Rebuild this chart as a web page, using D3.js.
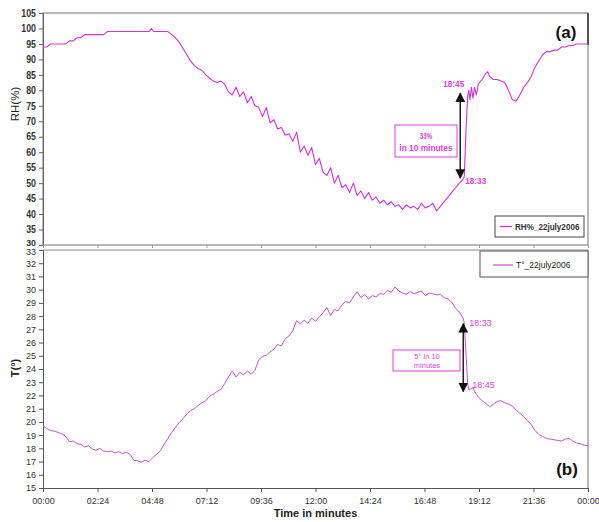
<!DOCTYPE html>
<html>
<head>
<meta charset="utf-8">
<script src="https://cdn.jsdelivr.net/npm/d3@7"></script>
<style>
  html, body { margin: 0; padding: 0; background: #fff; }
  svg { display: block; }
  .narrow { font-family: "Liberation Sans", Arial, sans-serif; font-weight: bold; }
  .sans { font-family: "Liberation Sans", Arial, sans-serif; }
</style>
</head>
<body>
<svg id="chart" width="599" height="522"></svg>
<script>
// Relative humidity, 22 July 2006: [minutes since midnight, RH %]
const rhSeries = [
  [0,94],[10,94],[20,95],[30,95],[40,95],[50,95],[60,95],[70,96],[80,96],[90,97],
  [100,97],[110,98],[120,98],[130,98],[140,98],[150,98],[160,98],[170,99],[180,99],[190,99],
  [200,99],[210,99],[220,99],[230,99],[240,99],[250,99],[260,99],[270,99],[280,99],[287,100],
  [292,99],[300,99],[310,99],[320,99],[330,99],[340,98],[350,97],[360,95.5],[370,93.5],[380,91.5],
  [390,89.5],[400,88],[410,87],[420,86.5],[430,85],[440,84],[450,83],[460,82.5],[470,83],[480,82],
  [490,79.5],[500,78.5],[510,81],[520,78],[530,79.5],[540,76],[550,78],[560,75],[570,74.5],[580,71.5],
  [590,74.5],[600,69.5],[610,70.5],[620,67.5],[630,68],[640,65.5],[650,66],[660,63.5],[670,66.5],[680,60],
  [690,62],[700,59],[710,61.5],[720,56],[730,58],[740,53.5],[750,52.5],[760,55],[770,50],[780,52.5],
  [790,48.5],[800,49.5],[810,47],[820,50],[830,46],[840,47.5],[850,45],[860,47],[870,44.5],[880,45.5],
  [890,43.5],[900,44.5],[910,43],[920,44],[930,42.5],[940,43],[950,41.5],[960,43],[970,42],[980,42.5],
  [990,41.5],[1000,43.5],[1010,42],[1020,42.5],[1030,43.5],[1040,41],[1050,42.5],[1060,44],[1070,45.5],[1080,47],
  [1090,48.5],[1100,50],[1108,51],[1113,52],[1118,68],[1122,78],[1125,80],[1128,77],[1132,81],[1136,77.5],
  [1140,81],[1145,78.5],[1150,82],[1160,83.5],[1170,85.5],[1175,86],[1180,84.5],[1190,83.5],[1200,83.5],[1210,83],
  [1220,82.5],[1230,80],[1240,77],[1250,76.5],[1260,78.5],[1270,81],[1280,82.5],[1290,84.5],[1300,87.5],[1310,89.5],
  [1320,91.5],[1330,92.5],[1340,92.5],[1350,93],[1360,93],[1370,94],[1380,94],[1390,94.5],[1400,94.5],[1410,95],
  [1420,95],[1430,95],[1440,95]
];

// Air temperature, 22 July 2006: [minutes since midnight, T °C]
const tSeries = [
  [0,19.7],[10,19.5],[20,19.35],[30,19.3],[40,19.2],[50,19.1],[60,18.9],[70,18.5],[80,18.55],[90,18.35],
  [100,18.3],[110,18.1],[120,18.2],[130,17.95],[140,17.85],[150,18.0],[160,17.8],[170,17.75],[180,17.8],[190,17.65],
  [200,17.75],[210,17.6],[220,17.7],[230,17.55],[240,17.1],[250,17.05],[260,16.95],[270,17.1],[280,17.0],[290,17.3],
  [300,17.55],[310,17.8],[320,18.3],[330,18.75],[340,19.2],[350,19.6],[360,19.95],[370,20.25],[380,20.6],[390,20.85],
  [400,21.0],[410,21.25],[420,21.45],[430,21.6],[440,21.95],[450,22.1],[460,22.3],[470,22.45],[480,22.9],[490,23.4],
  [500,23.85],[510,23.4],[520,23.75],[530,23.55],[540,23.85],[550,23.6],[560,23.9],[570,24.7],[580,24.95],[590,25.05],
  [600,25.3],[610,25.5],[620,25.85],[630,25.75],[640,26.3],[650,26.5],[660,26.9],[670,27.65],[680,27.4],[690,27.7],
  [700,27.45],[710,27.85],[720,27.6],[730,27.95],[740,28.25],[750,28.65],[760,28.05],[770,28.5],[780,28.4],[790,28.85],
  [800,29.1],[810,29.0],[820,29.45],[830,29.85],[840,29.4],[850,29.65],[860,29.3],[870,29.55],[880,29.45],[890,29.7],
  [900,29.65],[910,29.95],[920,29.8],[930,30.2],[940,29.9],[950,29.75],[960,29.65],[970,29.85],[980,29.7],[990,29.8],
  [1000,29.9],[1010,29.55],[1020,29.75],[1030,29.7],[1040,29.6],[1050,29.65],[1060,29.4],[1070,29.3],[1080,29.05],[1090,28.6],
  [1100,28.3],[1110,27.85],[1113,27.5],[1118,25],[1122,22.9],[1125,22.45],[1130,22.5],[1137,22.6],[1140,22.3],[1150,21.9],
  [1160,21.6],[1170,21.4],[1180,21.15],[1190,21.35],[1200,21.55],[1210,21.6],[1220,21.45],[1230,21.35],[1240,21.2],[1250,20.9],
  [1260,20.65],[1270,20.4],[1280,20.1],[1290,19.8],[1300,19.35],[1310,19.05],[1320,18.9],[1330,18.75],[1340,18.7],[1350,18.65],
  [1360,18.6],[1370,18.55],[1380,18.7],[1390,18.75],[1400,18.55],[1410,18.4],[1420,18.35],[1430,18.25],[1440,18.2]
];

// Time axis ticks every 2h24 (144 minutes)
const timeTicks = [0, 144, 288, 432, 576, 720, 864, 1008, 1152, 1296, 1440];
const timeLabels = ["00:00","02:24","04:48","07:12","09:36","12:00","14:24","16:48","19:12","21:36","00:00"];
const rhTicks = [30,35,40,45,50,55,60,65,70,75,80,85,90,95,100,105];
const tTicks = [15,16,17,18,19,20,21,22,23,24,25,26,27,28,29,30,31,32,33];

// Annotated rapid changes
const rhEvent = { start: [1113, 52], end: [1125, 80], startLabel: "18:33", endLabel: "18:45", text: ["33%", "in 10 minutes"] };
const tEvent = { start: [1113, 27.5], end: [1125, 22.45], startLabel: "18:33", endLabel: "18:45", text: ["5° in 10", "minutes"] };

const svg = d3.select("#chart");
const left = 43, right = 588;
const top1 = 13, bottom1 = 245, top2 = 250, bottom2 = 488;
const rhColor = "#d62fd6", tColor = "#c452cc", annColor = "#e03ce0";

// condensed look for the bold labels of panel (a)
const squeeze = (sel, perChar) => sel.each(function () {
  const n = this.textContent.length;
  d3.select(this).attr("textLength", n * perChar).attr("lengthAdjust", "spacingAndGlyphs");
});

const x = d3.scaleLinear().domain([0, 1440]).range([left, right]);
const yRH = d3.scaleLinear().domain([30, 105]).range([bottom1, top1]);
const yT = d3.scaleLinear().domain([15, 33]).range([bottom2, top2]);

svg.append("defs").append("marker")
  .attr("id", "head").attr("viewBox", "0 0 10 10")
  .attr("refX", 9).attr("refY", 5)
  .attr("markerWidth", 7).attr("markerHeight", 7)
  .attr("orient", "auto-start-reverse")
  .append("path").attr("d", "M0,0L10,5L0,10Z").attr("fill", "#111");

// ---- Panel (a): relative humidity ----
svg.append("rect").attr("x", left).attr("y", top1).attr("width", right - left).attr("height", bottom1 - top1)
  .attr("fill", "none").attr("stroke", "#8a8a8a").attr("stroke-width", 1.2);
svg.append("line").attr("x1", right).attr("x2", right).attr("y1", top1).attr("y2", 45)
  .attr("stroke", "#111").attr("stroke-width", 1.2);

const axRH = svg.append("g").attr("transform", `translate(${left},0)`)
  .call(d3.axisLeft(yRH).tickValues(rhTicks).tickSize(4).tickPadding(3));
axRH.select(".domain").attr("stroke", "#666");
axRH.selectAll(".tick line").attr("stroke", "#666");
axRH.selectAll("text").attr("class", "narrow").attr("font-size", 10).attr("fill", "#333").call(squeeze, 4.9);
// lowest label sits just above the lower panel's top label
axRH.selectAll(".tick").filter(d => d === 30).select("text").attr("dy", "0.05em").attr("font-size", 8.5);

const axTopX = svg.append("g").attr("transform", `translate(0,${bottom1})`)
  .call(d3.axisBottom(x).tickValues(timeTicks).tickSize(3).tickFormat(""));
axTopX.select(".domain").remove();
axTopX.selectAll(".tick line").attr("stroke", "#999");

svg.append("text").attr("class", "sans").attr("font-size", 11.5).attr("fill", "#222")
  .attr("text-anchor", "middle")
  .attr("transform", `translate(19,${(top1 + bottom1) / 2 - 25}) rotate(-90)`).text("RH(%)");

const line = (ys) => d3.line().x(d => x(d[0])).y(d => ys(d[1]));

svg.append("path").datum(rhSeries).attr("d", line(yRH))
  .attr("fill", "none").attr("stroke", rhColor).attr("stroke-width", 1.1).attr("stroke-linejoin", "round");

svg.append("text").attr("font-family", "Liberation Sans, Arial, sans-serif").attr("font-weight", "bold")
  .attr("font-size", 17).attr("x", 566).attr("y", 38).attr("text-anchor", "middle").attr("fill", "#111").text("(a)");

// Legend (a)
svg.append("rect").attr("x", 495).attr("y", 216).attr("width", 89).attr("height", 21)
  .attr("fill", "#fff").attr("stroke", "#444").attr("stroke-width", 1);
svg.append("line").attr("x1", 500).attr("x2", 512).attr("y1", 226.5).attr("y2", 226.5)
  .attr("stroke", rhColor).attr("stroke-width", 1.2);
svg.append("text").attr("class", "narrow").attr("font-size", 9).attr("fill", "#333")
  .attr("x", 515).attr("y", 229.5).text("RH%_22july2006").call(squeeze, 4.6);

// Annotation (a)
const ax1 = x(rhEvent.start[0]) - 4;
svg.append("line").attr("x1", ax1).attr("x2", ax1)
  .attr("y1", yRH(rhEvent.start[1]) + 1).attr("y2", yRH(rhEvent.end[1]) + 3)
  .attr("stroke", "#111").attr("stroke-width", 1.4)
  .attr("marker-start", "url(#head)").attr("marker-end", "url(#head)");
svg.append("text").attr("class", "narrow").attr("font-size", 9).attr("fill", annColor)
  .attr("x", ax1 - 17).attr("y", yRH(rhEvent.end[1]) - 3).text(rhEvent.endLabel).call(squeeze, 4.2);
svg.append("text").attr("class", "narrow").attr("font-size", 9).attr("fill", annColor)
  .attr("x", ax1 + 5).attr("y", yRH(rhEvent.start[1]) + 7).text(rhEvent.startLabel).call(squeeze, 4.2);
svg.append("rect").attr("x", 395).attr("y", 125).attr("width", 62).attr("height", 32)
  .attr("fill", "#fff").attr("stroke", annColor).attr("stroke-width", 1);
rhEvent.text.forEach((t, i) => {
  svg.append("text").attr("class", "narrow").attr("font-size", 9).attr("fill", annColor)
    .attr("x", 426).attr("y", 139 + i * 12).attr("text-anchor", "middle").text(t).call(squeeze, 4.1);
});

// ---- Panel (b): temperature ----
svg.append("line").attr("x1", left).attr("x2", right).attr("y1", top2).attr("y2", top2)
  .attr("stroke", "#8a8a8a").attr("stroke-width", 1.2);
svg.append("line").attr("x1", right).attr("x2", right).attr("y1", top2).attr("y2", bottom2)
  .attr("stroke", "#8a8a8a").attr("stroke-width", 1.2);

const axT = svg.append("g").attr("transform", `translate(${left},0)`)
  .call(d3.axisLeft(yT).tickValues(tTicks).tickSize(4).tickPadding(3));
axT.select(".domain").attr("stroke", "#555");
axT.selectAll(".tick line").attr("stroke", "#555");
axT.selectAll("text").attr("class", "sans").attr("font-size", 9).attr("fill", "#333");
axT.selectAll(".tick").filter(d => d === 33).select("text").attr("dy", "0.5em");

const axX = svg.append("g").attr("transform", `translate(0,${bottom2})`)
  .call(d3.axisBottom(x).tickValues(timeTicks).tickSize(4).tickPadding(6)
    .tickFormat((d, i) => timeLabels[i]));
axX.select(".domain").attr("stroke", "#555");
axX.selectAll(".tick line").attr("stroke", "#555");
axX.selectAll("text").attr("class", "sans").attr("font-size", 9).attr("fill", "#333");

svg.append("text").attr("class", "sans").attr("font-size", 11).attr("font-weight", "bold").attr("fill", "#222")
  .attr("text-anchor", "middle").attr("x", (left + right) / 2).attr("y", 517).text("Time in minutes");

svg.append("text").attr("class", "sans").attr("font-size", 11).attr("font-weight", "bold").attr("fill", "#222")
  .attr("text-anchor", "middle")
  .attr("transform", `translate(19,${(top2 + bottom2) / 2 - 1}) rotate(-90)`).text("T(°)");

svg.append("path").datum(tSeries).attr("d", line(yT))
  .attr("fill", "none").attr("stroke", tColor).attr("stroke-width", 1).attr("stroke-linejoin", "round");

svg.append("text").attr("font-family", "Liberation Sans, Arial, sans-serif").attr("font-weight", "bold")
  .attr("font-size", 17).attr("x", 567).attr("y", 475).attr("text-anchor", "middle").attr("fill", "#111").text("(b)");

// Legend (b)
svg.append("rect").attr("x", 480).attr("y", 251).attr("width", 108).attr("height", 26)
  .attr("fill", "#fff").attr("stroke", "#555").attr("stroke-width", 1);
svg.append("line").attr("x1", 493).attr("x2", 513).attr("y1", 265).attr("y2", 265)
  .attr("stroke", tColor).attr("stroke-width", 1.2);
svg.append("text").attr("class", "sans").attr("font-size", 8.5).attr("fill", "#222")
  .attr("x", 516).attr("y", 268).text("T°_22july2006");

// Annotation (b)
const ax2 = x(tEvent.start[0]) - 1;
svg.append("line").attr("x1", ax2).attr("x2", ax2)
  .attr("y1", yT(tEvent.start[1]) + 1).attr("y2", yT(tEvent.end[1]) + 2)
  .attr("stroke", "#111").attr("stroke-width", 1.4)
  .attr("marker-start", "url(#head)").attr("marker-end", "url(#head)");
svg.append("text").attr("class", "sans").attr("font-size", 9).attr("fill", annColor)
  .attr("x", ax2 + 6).attr("y", yT(tEvent.start[1]) + 3).text(tEvent.startLabel);
svg.append("text").attr("class", "sans").attr("font-size", 9).attr("fill", annColor)
  .attr("x", ax2 + 9).attr("y", yT(tEvent.end[1]) - 1).text(tEvent.endLabel);
svg.append("rect").attr("x", 393).attr("y", 350).attr("width", 67).attr("height", 21)
  .attr("fill", "#fff").attr("stroke", annColor).attr("stroke-width", 1);
tEvent.text.forEach((t, i) => {
  svg.append("text").attr("class", "sans").attr("font-size", 7.5).attr("fill", annColor)
    .attr("x", 427).attr("y", 358.5 + i * 9).attr("text-anchor", "middle").text(t);
});
</script>
</body>
</html>
